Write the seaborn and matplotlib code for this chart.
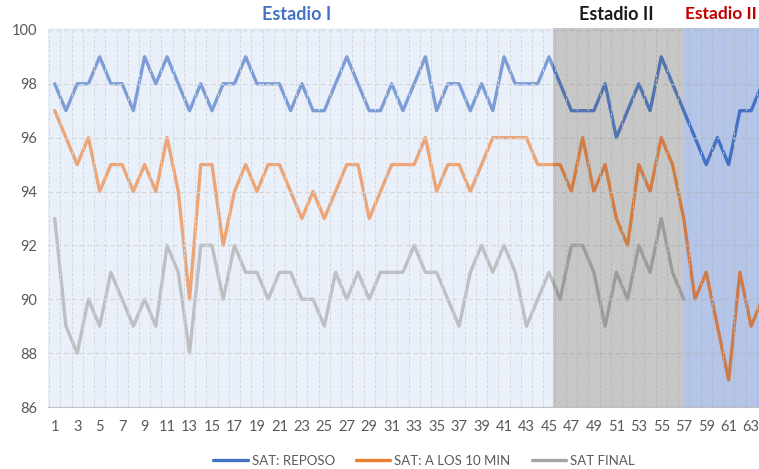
import numpy as np
import pandas as pd
import matplotlib
matplotlib.use("Agg")
import matplotlib.pyplot as plt
from matplotlib.lines import Line2D
import seaborn as sns

# saturation readings per patient
sat_reposo = [98, 97, 98, 98, 99, 98, 98, 97, 99, 98, 99, 98, 97, 98, 97, 98, 98, 99, 98, 98, 98, 97,
              98, 97, 97, 98, 99, 98, 97, 97, 98, 97, 98, 99, 97, 98, 98, 97, 98, 97, 99, 98, 98, 98, 99,
              98, 97, 97, 97, 98, 96, 97, 98, 97, 99, 98, 97, 96, 95, 96, 95, 97, 97, 98]
sat_10min = [97, 96, 95, 96, 94, 95, 95, 94, 95, 94, 96, 94, 90, 95, 95, 92, 94, 95, 94, 95, 95, 94,
             93, 94, 93, 94, 95, 95, 93, 94, 95, 95, 95, 96, 94, 95, 95, 94, 95, 96, 96, 96, 96, 95, 95,
             95, 94, 96, 94, 95, 93, 92, 95, 94, 96, 95, 93, 90, 91, 89, 87, 91, 89, 90]
sat_final = [93, 89, 88, 90, 89, 91, 90, 89, 90, 89, 92, 91, 88, 92, 92, 90, 92, 91, 91, 90, 91, 91,
             90, 90, 89, 91, 90, 91, 90, 91, 91, 91, 92, 91, 91, 90, 89, 91, 92, 91, 92, 91, 89, 90, 91,
             90, 92, 92, 91, 89, 91, 90, 92, 91, 93, 91, 90]

series_names = ["SAT: REPOSO", "SAT: A LOS 10 MIN", "SAT FINAL"]
series_colors = ["#4472C4", "#ED7D31", "#A5A5A5"]
stage_labels = ["Estadio I", "Estadio II", "Estadio II"]
stage_colors = ["#4472C4", "#1A1A1A", "#C00000"]

frames = []
for name, vals in zip(series_names, [sat_reposo, sat_10min, sat_final]):
    frames.append(pd.DataFrame({"n": np.arange(1, len(vals) + 1), "sat": vals, "serie": name}))
df = pd.concat(frames, ignore_index=True)

sns.set_style("white")
plt.rcParams["font.family"] = ["Lato", "DejaVu Sans"]

fig = plt.figure(figsize=(7.59, 4.69), dpi=100)
ax = fig.add_axes([48 / 759, 1 - 407 / 469, (759 - 48) / 759, (407 - 28) / 469])

x_left, x_right = 0.4, 63.7
ax.set_xlim(x_left, x_right)
ax.set_ylim(86, 100.07)

# stage backgrounds (underlay) and tint overlays (on top of the lines)
spans = [(x_left, 45.35), (45.35, 57.0), (57.0, 70)]
under = ["#EAF0FA", "#E0E0E0", "#CDD8EF"]
over = [("#EAF0FA", 0.35), ("#7F7F7F", 0.25), ("#4472C4", 0.18)]
for (a, b), uc, (oc, oa) in zip(spans, under, over):
    ax.axvspan(a, b, color=uc, zorder=0, lw=0)
    ax.axvspan(a, b, color=oc, alpha=oa, zorder=3, lw=0)

sns.lineplot(data=df, x="n", y="sat", hue="serie", palette=dict(zip(series_names, series_colors)),
             linewidth=2.4, legend=False, ax=ax, zorder=2)

ax.set_xticks(np.arange(1, 64, 2))
ax.set_xticks(np.arange(0.5, 64, 1), minor=True)
ax.set_yticks(np.arange(86, 101, 2))
ax.grid(True, which="minor", axis="x", color="#C8C8C8", ls=(0, (3, 2)), lw=0.7, zorder=1)
ax.grid(True, which="major", axis="y", color="#C8C8C8", ls=(0, (4, 3)), lw=0.8, zorder=1)
ax.grid(False, which="major", axis="x")
ax.set_axisbelow(False)
ax.tick_params(axis="both", which="both", length=0, labelsize=10.5, colors="#595959")
ax.tick_params(axis="x", pad=9)
ax.tick_params(axis="y", pad=8)
ax.set_xlabel("")
ax.set_ylabel("")
for side in ["top", "right", "left"]:
    ax.spines[side].set_visible(False)
ax.spines["bottom"].set_color("#BFBFBF")
ax.spines["bottom"].set_linewidth(0.8)
ax.spines["bottom"].set_zorder(4)

# stage titles
fig.text(297 / 759, 1 - 14 / 469, stage_labels[0], color=stage_colors[0], fontsize=13,
         fontweight="bold", ha="center", va="center")
fig.text(616 / 759, 1 - 14 / 469, stage_labels[1], color=stage_colors[1], fontsize=13,
         fontweight="bold", ha="center", va="center")
fig.text(757 / 759, 1 - 14 / 469, stage_labels[2], color=stage_colors[2], fontsize=12.5,
         fontweight="bold", ha="right", va="center")

handles = [Line2D([], [], color=c, lw=2.4) for c in series_colors]
fig.legend(handles, series_names, loc="center", bbox_to_anchor=(424 / 759, 1 - 461 / 469),
           ncol=3, frameon=False, fontsize=9.5, handlelength=2.6, handletextpad=0.3,
           columnspacing=1.6, labelcolor="#595959")

fig.savefig("out.png", dpi=100)
